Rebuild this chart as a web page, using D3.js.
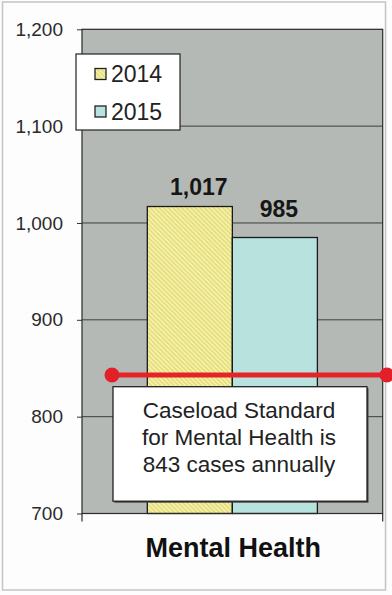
<!DOCTYPE html>
<html>
<head>
<meta charset="utf-8">
<script src="https://cdn.jsdelivr.net/npm/d3@7/dist/d3.min.js"></script>
<style>
  html, body { margin: 0; padding: 0; background: #fdfdfd; }
  svg { display: block; font-family: "Liberation Sans", Arial, sans-serif; }
</style>
</head>
<body>
<svg id="chart" width="392" height="595"></svg>
<script>
// Caseload per year for the Mental Health category
const categories = ["Mental Health"];
const years = ["2014", "2015"];
const caseloads = [1017, 985];
const valueLabels = ["1,017", "985"];
const yTicks = [700, 800, 900, 1000, 1100, 1200];
const yTickLabels = ["700", "800", "900", "1,000", "1,100", "1,200"];
const standardValue = 843;
const standardText = ["Caseload Standard", "for Mental Health is", "843 cases annually"];

const svg = d3.select("#chart");
const plot = { left: 82, right: 382.7, top: 29.3, bottom: 513.5 };

const y = d3.scaleLinear().domain([700, 1200]).range([plot.bottom, plot.top]);
const x = d3.scaleBand().domain(categories)
  .range([plot.left, plot.right]).paddingInner(0).paddingOuter(0.384);
const xs = d3.scaleBand().domain(years).range([0, x.bandwidth()]).padding(0);

const fills = { "2014": "url(#hatch2014)", "2015": "#b8e2dd" };

// hatched yellow fill for 2014
const defs = svg.append("defs");
const pat = defs.append("pattern").attr("id", "hatch2014")
  .attr("patternUnits", "userSpaceOnUse").attr("width", 3.2).attr("height", 3.2)
  .attr("patternTransform", "rotate(-45)");
pat.append("rect").attr("width", 3.2).attr("height", 3.2).attr("fill", "#f6f2a2");
pat.append("line").attr("x1", 0.8).attr("y1", 0).attr("x2", 0.8).attr("y2", 3.2)
  .attr("stroke", "#dcd47a").attr("stroke-width", 1.1);

// outer frame
svg.append("rect").attr("x", 2.5).attr("y", 2).attr("width", 383).attr("height", 588)
  .attr("fill", "none").attr("stroke", "#c4c4c4").attr("stroke-width", 1.5);

// plot background
svg.append("rect").attr("x", plot.left).attr("y", plot.top)
  .attr("width", plot.right - plot.left).attr("height", plot.bottom - plot.top)
  .attr("fill", "#b5b9b5");

// gridlines
svg.append("g").selectAll("line").data(yTicks.slice(1, -1)).join("line")
  .attr("x1", plot.left).attr("x2", plot.right)
  .attr("y1", d => y(d)).attr("y2", d => y(d))
  .attr("stroke", "#3e3e3e").attr("stroke-width", 1);

// y axis
const yAxis = d3.axisLeft(y).tickValues(yTicks)
  .tickFormat((d, i) => yTickLabels[i]).tickSize(5).tickPadding(14);
const gy = svg.append("g").attr("transform", `translate(${plot.left},0)`).call(yAxis);
gy.select(".domain").remove();
gy.selectAll(".tick line").attr("stroke", "#333");
gy.selectAll(".tick text").attr("font-size", 19).attr("fill", "#2a2a2a")
  .attr("font-family", "'Liberation Sans', Arial, sans-serif");

// bars
const bars = svg.append("g");
bars.selectAll("rect").data(years).join("rect")
  .attr("x", (d) => x(categories[0]) + xs(d))
  .attr("y", (d, i) => y(caseloads[i]))
  .attr("width", xs.bandwidth())
  .attr("height", (d, i) => y(700) - y(caseloads[i]))
  .attr("fill", d => fills[d])
  .attr("stroke", "#1a1a1a").attr("stroke-width", 1.3);

// plot border
svg.append("rect").attr("x", plot.left).attr("y", plot.top)
  .attr("width", plot.right - plot.left).attr("height", plot.bottom - plot.top)
  .attr("fill", "none").attr("stroke", "#2a2a2a").attr("stroke-width", 1.2);

// category axis ticks at band edges
svg.append("g").selectAll("line").data([plot.left, plot.right]).join("line")
  .attr("x1", d => d).attr("x2", d => d)
  .attr("y1", plot.bottom).attr("y2", plot.bottom + 8)
  .attr("stroke", "#2a2a2a").attr("stroke-width", 1.2);

// value labels
const labelNudge = [{ dx: 9, dy: -12 }, { dx: 4, dy: -21 }];
svg.append("g").selectAll("text").data(years).join("text")
  .attr("x", (d, i) => x(categories[0]) + xs(d) + xs.bandwidth() / 2 + labelNudge[i].dx)
  .attr("y", (d, i) => y(caseloads[i]) + labelNudge[i].dy)
  .attr("text-anchor", "middle").attr("font-size", 23).attr("font-weight", "bold")
  .attr("fill", "#161616").text((d, i) => valueLabels[i]);

// caseload standard line
const sy = y(standardValue);
const sx1 = plot.left + 30, sx2 = 387;
svg.append("line").attr("x1", sx1).attr("x2", sx2).attr("y1", sy).attr("y2", sy)
  .attr("stroke", "#e5242a").attr("stroke-width", 5);
svg.append("g").selectAll("circle").data([sx1, sx2]).join("circle")
  .attr("cx", d => d).attr("cy", sy).attr("r", 7.5).attr("fill", "#e3202a");

// standard note box
const box = { x: 113, y: 386.7, w: 254, h: 114.5 };
svg.append("rect").attr("x", box.x + 1.5).attr("y", box.y + 1.5)
  .attr("width", box.w).attr("height", box.h).attr("fill", "#444");
svg.append("rect").attr("x", box.x).attr("y", box.y)
  .attr("width", box.w).attr("height", box.h)
  .attr("fill", "#ffffff").attr("stroke", "#222").attr("stroke-width", 1.3);
svg.append("g").selectAll("text").data(standardText).join("text")
  .attr("x", box.x + box.w / 2 - 1)
  .attr("y", (d, i) => 418.3 + i * 26.7)
  .attr("text-anchor", "middle").attr("font-size", 22.5).attr("fill", "#222")
  .text(d => d);

// legend
const lg = svg.append("g").attr("transform", "translate(76,54)");
lg.append("rect").attr("width", 104).attr("height", 76)
  .attr("fill", "#ffffff").attr("stroke", "#222").attr("stroke-width", 1.2);
const li = lg.selectAll("g").data(years).join("g")
  .attr("transform", (d, i) => `translate(19,${14.5 + i * 37.5})`);
li.append("rect").attr("width", 11).attr("height", 11)
  .attr("fill", d => fills[d]).attr("stroke", "#222").attr("stroke-width", 1.3);
li.append("text").attr("x", 16).attr("y", 13.5)
  .attr("font-size", 23).attr("fill", "#222").text(d => d);

// category label
svg.append("text").attr("x", x(categories[0]) + x.bandwidth() / 2 + 1).attr("y", 557)
  .attr("text-anchor", "middle").attr("font-size", 27).attr("font-weight", "bold")
  .attr("fill", "#111").text(categories[0]);
</script>
</body>
</html>
